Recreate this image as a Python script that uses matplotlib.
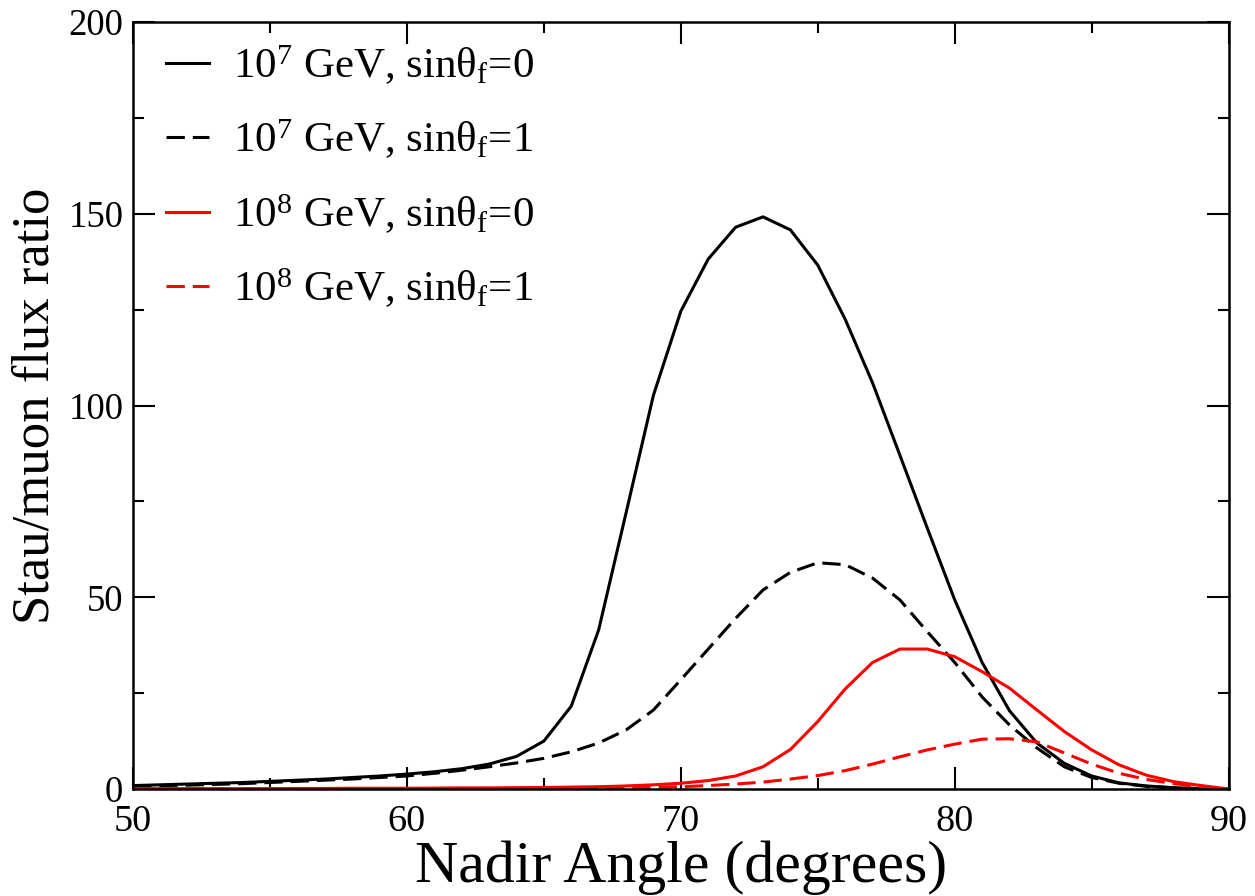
#!/usr/bin/env python3
"""
Stau/muon flux ratio versus nadir angle, for two energies and two mixing angles.
"""

import matplotlib
matplotlib.use('Agg')
import matplotlib.pyplot as plt
from matplotlib.ticker import MultipleLocator

plt.rcParams['font.family'] = ['Liberation Serif', 'DejaVu Serif']
plt.rcParams['mathtext.fontset'] = 'custom'
plt.rcParams['mathtext.rm'] = 'Liberation Serif'
plt.rcParams['mathtext.it'] = 'Liberation Serif'

# Nadir angle in degrees, one point per degree
angle = list(range(50, 91))

# 10^7 GeV, sin(theta_f) = 0
e7_s0 = [0.9, 1.1, 1.3, 1.5, 1.7, 2.0, 2.3, 2.6, 3.0, 3.4,
         3.9, 4.5, 5.3, 6.5, 8.5, 12.5, 21.6, 41.5, 72.0, 102.7,
         124.6, 138.2, 146.5, 149.2, 145.8, 136.6, 122.5, 105.9, 87.0, 68.0,
         49.3, 33.0, 20.4, 12.0, 6.7, 3.4, 1.6, 0.8, 0.35, 0.1, 0.0]

# 10^7 GeV, sin(theta_f) = 1
e7_s1 = [0.7, 0.9, 1.0, 1.2, 1.4, 1.7, 2.0, 2.3, 2.6, 3.0,
         3.4, 4.1, 4.9, 5.8, 6.8, 8.0, 9.7, 12.0, 15.4, 20.6,
         28.5, 36.5, 44.5, 51.9, 56.5, 59.0, 58.5, 55.0, 49.3, 41.0,
         33.0, 24.0, 16.7, 10.7, 5.8, 3.0, 1.5, 0.7, 0.3, 0.1, 0.0]

# 10^8 GeV, sin(theta_f) = 0
e8_s0 = [0.1, 0.1, 0.1, 0.1, 0.1, 0.1, 0.15, 0.15, 0.2, 0.2,
         0.2, 0.25, 0.3, 0.3, 0.35, 0.4, 0.5, 0.6, 0.8, 1.1,
         1.5, 2.2, 3.4, 5.8, 10.3, 17.6, 26.1, 33.0, 36.5, 36.5,
         34.5, 30.6, 26.3, 20.6, 15.0, 10.2, 6.3, 3.6, 1.9, 0.9, 0.0]

# 10^8 GeV, sin(theta_f) = 1
e8_s1 = [0.05, 0.05, 0.05, 0.05, 0.05, 0.05, 0.05, 0.1, 0.1, 0.1,
         0.1, 0.1, 0.1, 0.15, 0.15, 0.2, 0.2, 0.3, 0.35, 0.45,
         0.6, 0.9, 1.3, 1.8, 2.6, 3.5, 4.8, 6.5, 8.4, 10.2,
         11.7, 13.0, 13.1, 12.3, 9.4, 6.5, 4.1, 2.5, 1.4, 0.6, 0.0]

labels = [r'10$^{\mathrm{7}}$ GeV, sinθ$_{\mathrm{f}}$=0',
          r'10$^{\mathrm{7}}$ GeV, sinθ$_{\mathrm{f}}$=1',
          r'10$^{\mathrm{8}}$ GeV, sinθ$_{\mathrm{f}}$=0',
          r'10$^{\mathrm{8}}$ GeV, sinθ$_{\mathrm{f}}$=1']

fig = plt.figure(figsize=(12.55, 8.96), dpi=100)
ax = fig.add_axes([0.106, 0.1194, 0.873, 0.856])

lw = 2.2
dash = (6, 2.6)
ax.plot(angle, e7_s0, color='black', lw=lw, label=labels[0])
ax.plot(angle, e7_s1, color='black', lw=lw, dashes=dash, label=labels[1])
ax.plot(angle, e8_s0, color='red', lw=lw, label=labels[2])
ax.plot(angle, e8_s1, color='red', lw=lw, dashes=dash, label=labels[3])

ax.set_xlim(50, 90)
ax.set_ylim(0, 200)
ax.xaxis.set_major_locator(MultipleLocator(10))
ax.xaxis.set_minor_locator(MultipleLocator(5))
ax.yaxis.set_major_locator(MultipleLocator(50))
ax.yaxis.set_minor_locator(MultipleLocator(25))
ax.tick_params(which='both', direction='in', top=True, right=True, width=1.5)
ax.tick_params(which='major', length=16)
ax.tick_params(which='minor', length=8)
ax.tick_params(axis='x', labelsize=27.5, pad=11)
ax.tick_params(axis='y', labelsize=26.5, pad=7)
for s in ax.spines.values():
    s.set_linewidth(1.8)

ax.set_xlabel('Nadir Angle (degrees)', fontsize=43, labelpad=1)
ax.set_ylabel('Stau/muon flux ratio', fontsize=38, labelpad=6)

ax.legend(loc='upper left', bbox_to_anchor=(0.03, 0.972), frameon=False,
          fontsize=31, handlelength=1.0, handletextpad=0.55,
          labelspacing=0.71, borderpad=0, borderaxespad=0)

plt.savefig('out.png', dpi=100)
